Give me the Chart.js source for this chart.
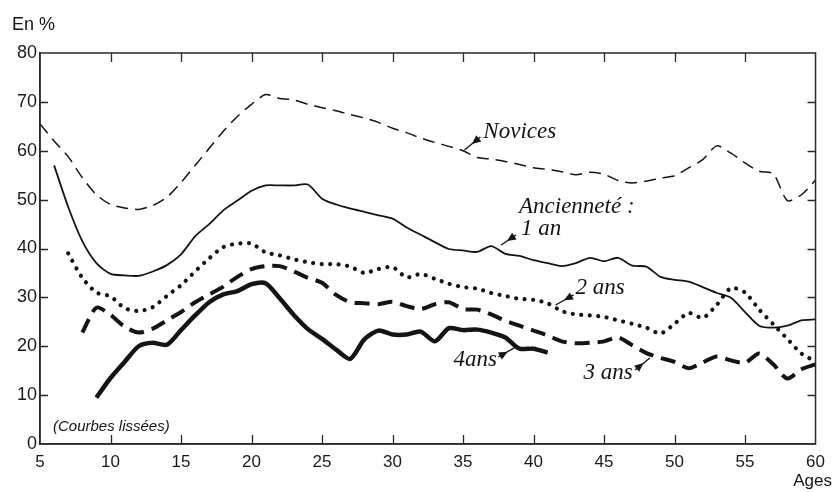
<!DOCTYPE html>
<html><head><meta charset="utf-8">
<script src="https://cdn.jsdelivr.net/npm/chart.js@4.4.0/dist/chart.umd.min.js"></script>
<style>html,body{margin:0;padding:0;background:#fff}#wrap{width:833px;height:492px;position:relative}</style>
</head><body><div id="wrap"><canvas id="c" width="833" height="492"></canvas></div>
<script>
// Ages (x categories)
const ages = [5,6,7,8,9,10,11,12,13,14,15,16,17,18,19,20,21,22,23,24,25,26,27,28,29,30,31,32,33,34,35,36,37,38,39,40,41,42,43,44,45,46,47,48,49,50,51,52,53,54,55,56,57,58,59,60];
// Series values (en %), aligned with ages
const novices = [65.5,62,58.8,54.5,51,49,48.3,48,48.8,50.5, 53.5,57,60.5,64,67,69.5,71.5,70.7,70.4,69.5, 68.8,68.2,67.4,66.7,65.8,64.6,63.7,62.6,61.7,60.9, 60,58.6,58.3,57.8,57.2,56.5,56.2,55.7,55.1,55.6, 55.2,53.9,53.4,53.8,54.4,54.9,56.5,58.2,61,59.5, 57.5,55.8,55.3,49.8,51,54];
const anciennete1an = [null,57,48.5,41.5,37,34.8,34.5,34.4,35.3,36.6, 38.8,42.5,45,47.8,49.8,51.8,52.9,52.9,52.9,53.1, 50.2,49,48.2,47.5,46.8,46.1,44.3,42.8,41.3,39.9, 39.6,39.3,40.5,38.9,38.5,37.6,37,36.4,37,38.1, 37.4,38.1,36.5,36.3,34.2,33.6,33.2,32.1,30.9,29.9, 27,24.2,23.8,24.2,25.3,25.5];
const anciennete2ans = [null,null,39,34,31,30.2,27.8,27.2,28,30.3, 32.5,35.3,38,40.3,41,41,39.2,38.6,37.8,37.2, 36.8,36.8,36.3,35,35.8,36.2,34.1,34.8,33.8,32.8, 32.1,31.8,30.9,30.3,29.7,29.5,28.8,27.2,26.5,26.3, 26,25.3,24.6,23.8,22.6,24.6,26.8,25.8,28.5,31.9, 31,27.5,24.5,21.5,18.5,16.9];
const anciennete3ans = [null,null,null,22.8,27.9,26.4,24,22.8,23.6,25.3, 27,29,30.6,32.2,34.2,35.8,36.4,36.4,35.3,34, 33,30.5,29,28.8,28.6,29.1,28.2,27.6,28.6,29, 27.6,27.5,26.5,25.2,24.2,23.2,22.2,21,20.6,20.7, 21,21.8,20.2,18.6,17.6,16.8,15.5,16.7,17.9,17.1, 16.6,18.5,16.3,13.4,15.3,16.3];
const anciennete4ans = [null,null,null,null,9.5,13.5,16.8,20,20.7,20.3, 23.3,26.3,29,30.6,31.3,32.7,32.9,29.8,26.4,23.5, 21.5,19.3,17.4,21.4,23.2,22.4,22.4,23,21,23.7, 23.3,23.4,22.8,21.8,19.5,19.5,18.7,null,null,null, null,null,null,null,null,null,null,null,null,null, null,null,null,null,null,null];
// Tick labels
const xTicks = [5,10,15,20,25,30,35,40,45,50,55,60];
const yTicks = [0,10,20,30,40,50,60,70,80];

const toPts = vals => ages.map((a,i)=>({x:a, y:vals[i]})).filter(p=>p.y!==null);

// Annotations (data coordinates: age, %)
const notes = [
  {text:'Novices', at:[36.44,63.84], lead:[[35.10,60.15],[36.23,62.81]]},
  {text:'Ancienneté :', at:[38.97,48.49]},
  {text:'1 an', at:[39.11,43.99], lead:[[37.70,40.72],[38.76,42.76]]},
  {text:'2 ans', at:[42.98,31.92], lead:[[41.57,28.44],[42.84,30.49]]},
  {text:'4ans', at:[34.33,17.19], lead:[[37.49,17.80],[38.76,19.85]], right:true},
  {text:'3 ans', at:[43.54,14.53], lead:[[47.20,15.14],[48.25,17.60]], right:true}
];

const ink = '#141414';
const sansFont = '"Liberation Sans", Arial, Helvetica, sans-serif';
const serifFont = '"Liberation Serif", "Times New Roman", serif';

const decor = {
  id:'decor',
  afterDatasetsDraw(chart){
    const {ctx, chartArea:a, scales:{x,y}} = chart;
    ctx.save();
    ctx.strokeStyle = '#2a2a2a';
    ctx.lineWidth = 1.5;
    ctx.strokeRect(a.left, a.top, a.right-a.left, a.bottom-a.top);
    ctx.lineWidth = 1.3;
    ctx.beginPath();
    xTicks.forEach(v=>{
      if(v<=x.min||v>=x.max) return;
      const px = Math.round(x.getPixelForValue(v))+0.5;
      ctx.moveTo(px,a.bottom); ctx.lineTo(px,a.bottom-9);
      ctx.moveTo(px,a.top); ctx.lineTo(px,a.top+9);
    });
    yTicks.forEach(v=>{
      if(v<=y.min||v>=y.max) return;
      const py = Math.round(y.getPixelForValue(v))+0.5;
      ctx.moveTo(a.left,py); ctx.lineTo(a.left+8,py);
      ctx.moveTo(a.right,py); ctx.lineTo(a.right-8,py);
    });
    ctx.stroke();

    // annotations
    ctx.fillStyle = ink; ctx.strokeStyle = ink;
    ctx.font = 'italic 23px ' + serifFont;
    ctx.textBaseline = 'middle'; ctx.textAlign = 'left';
    notes.forEach(n=>{
      const tx = x.getPixelForValue(n.at[0]), ty = y.getPixelForValue(n.at[1]);
      ctx.fillText(n.text, tx, ty);
      if(n.lead){
        const p1 = [x.getPixelForValue(n.lead[0][0]), y.getPixelForValue(n.lead[0][1])];
        const p2 = [x.getPixelForValue(n.lead[1][0]), y.getPixelForValue(n.lead[1][1])];
        ctx.lineWidth = 1.4;
        ctx.beginPath(); ctx.moveTo(p1[0],p1[1]); ctx.lineTo(p2[0],p2[1]); ctx.stroke();
        // triangle near text end, pointing toward curve
        const txt = n.right ? p1 : p2, cur = n.right ? p2 : p1;
        const dx = cur[0]-txt[0], dy = cur[1]-txt[1], L = Math.hypot(dx,dy);
        const ux = dx/L, uy = dy/L;
        const bx = txt[0]+ux*2, by = txt[1]+uy*2;
        const tipx = bx+ux*9, tipy = by+uy*9;
        ctx.beginPath();
        ctx.moveTo(tipx,tipy);
        ctx.lineTo(bx - uy*4, by + ux*4);
        ctx.lineTo(bx + uy*4, by - ux*4);
        ctx.closePath(); ctx.fill();
      }
    });

    // other texts
    ctx.font = '18px ' + sansFont;
    ctx.textAlign = 'left';
    ctx.fillText('En %', 12, 25);
    ctx.font = '17px ' + sansFont;
    ctx.textAlign = 'right';
    ctx.fillText('Ages', 832, 481);
    ctx.font = 'italic 15px ' + sansFont;
    ctx.textAlign = 'left';
    ctx.fillText('(Courbes lissées)', a.left+13, a.bottom-17);
    ctx.restore();
  }
};

const base = {fill:false, pointRadius:0, borderColor:ink, tension:0.25, spanGaps:false};
new Chart(document.getElementById('c'), {
  type:'line',
  data:{datasets:[
    Object.assign({}, base, {label:'Novices', data:toPts(novices), borderWidth:1.5, borderDash:[12,7]}),
    Object.assign({}, base, {label:'1 an', data:toPts(anciennete1an), borderWidth:1.8}),
    Object.assign({}, base, {label:'2 ans', data:toPts(anciennete2ans), borderWidth:4.2, borderDash:[0.01,8.5], borderCapStyle:'round'}),
    Object.assign({}, base, {label:'3 ans', data:toPts(anciennete3ans), borderWidth:4, borderDash:[15,8]}),
    Object.assign({}, base, {label:'4 ans', data:toPts(anciennete4ans), borderWidth:4.5, borderJoinStyle:'round'})
  ]},
  options:{
    responsive:false, animation:false, devicePixelRatio:1,
    layout:{padding:{top:53,right:11,left:0,bottom:0}},
    plugins:{legend:{display:false}, tooltip:{enabled:false}},
    scales:{
      x:{type:'linear', min:5, max:60,
        afterFit(s){ s.height = 48; },
        afterBuildTicks(s){ s.ticks = xTicks.map(v=>({value:v})); },
        grid:{display:false, drawTicks:false},
        border:{display:true, color:'#2a2a2a', width:1.5},
        ticks:{color:'#1a1a1a', font:{family:sansFont, size:17}, padding:8, maxRotation:0, autoSkip:false}
      },
      y:{min:0, max:80,
        afterFit(s){ s.width = 40; },
        afterBuildTicks(s){ s.ticks = yTicks.map(v=>({value:v})); },
        grid:{display:false, drawTicks:false},
        border:{display:true, color:'#2a2a2a', width:1.5},
        ticks:{color:'#1a1a1a', font:{family:sansFont, size:18}, padding:3}
      }
    }
  },
  plugins:[decor]
});
</script></body></html>
